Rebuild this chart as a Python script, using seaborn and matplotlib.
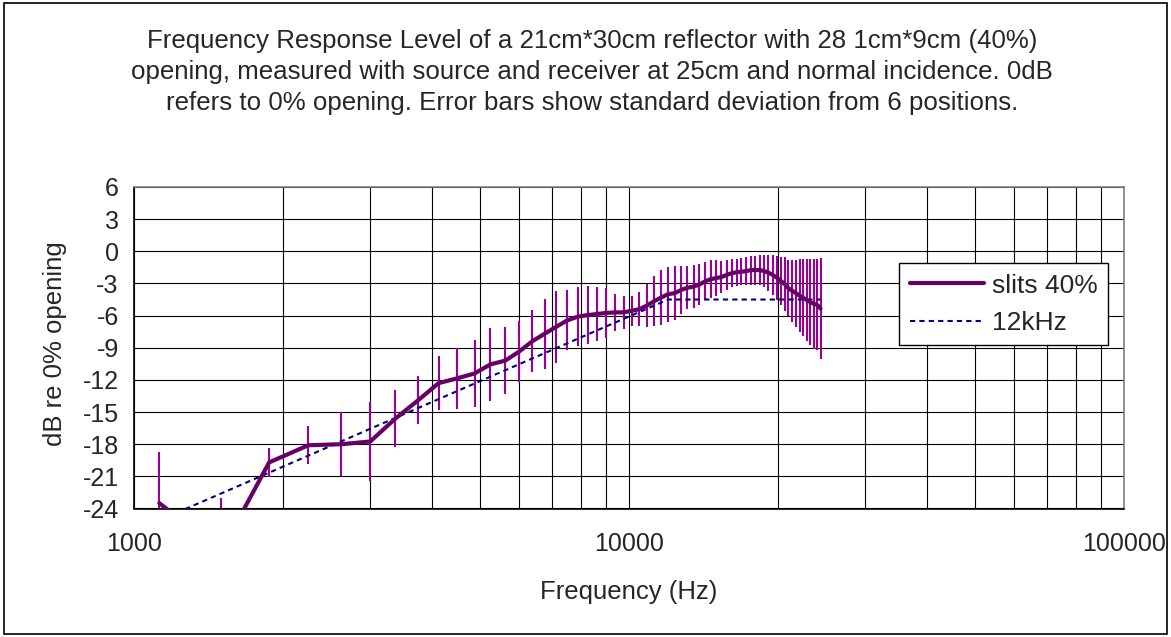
import numpy as np
import pandas as pd
import matplotlib
matplotlib.use("Agg")
import matplotlib.pyplot as plt
from matplotlib.patches import Rectangle
from matplotlib.ticker import FixedLocator, FuncFormatter, NullFormatter
import seaborn as sns

# measured frequencies (Hz), one point every 375 Hz
freq_hz = [1125, 1500, 1875, 2250, 2625, 3000, 3375, 3750, 4125, 4500,
           4875, 5250, 5625, 6000, 6375, 6750, 7125, 7500, 7875, 8250,
           8625, 9000, 9375, 9750, 10125, 10500, 10875, 11250, 11625, 12000,
           12375, 12750, 13125, 13500, 13875, 14250, 14625, 15000, 15375, 15750,
           16125, 16500, 16875, 17250, 17625, 18000, 18375, 18750, 19125, 19500,
           19875, 20250, 20625, 21000, 21375, 21750, 22125, 22500, 22875, 23250,
           23625, 24000, 24375]

# mean level, slits 40% (dB re 0% opening)
level_db = [-23.5, -28.0, -19.7, -18.1, -18.0, -17.75, -15.6, -13.9, -12.3, -11.85,
            -11.4, -10.55, -10.2, -9.35, -8.4, -7.7, -7.05, -6.45, -6.1, -5.95,
            -5.85, -5.75, -5.7, -5.7, -5.55, -5.4, -5.05, -4.65, -4.3, -4.0,
            -3.9, -3.6, -3.4, -3.3, -3.1, -2.8, -2.6, -2.5, -2.4, -2.2,
            -2.05, -1.95, -1.9, -1.85, -1.75, -1.75, -1.75, -1.85, -2.0, -2.2,
            -2.45, -2.75, -3.05, -3.45, -3.7, -3.9, -4.15, -4.35, -4.55, -4.75,
            -4.9, -5.0, -5.35]

# standard deviation over 6 positions (dB)
std_db = [4.8, 5.0, 1.37, 1.78, 3.0, 3.67, 2.64, 2.25, 2.55, 2.86,
          3.1, 3.4, 3.14, 2.8, 2.9, 3.28, 3.37, 2.8, 2.75, 2.71,
          2.55, 2.32, 1.73, 1.52, 1.42, 1.61, 2.0, 2.35, 2.55, 2.58,
          2.5, 2.22, 2.0, 2.0, 1.9, 1.77, 1.77, 1.66, 1.53, 1.38,
          1.3, 1.25, 1.25, 1.3, 1.35, 1.35, 1.4, 1.5, 1.66, 1.89,
          2.05, 2.25, 2.55, 2.63, 2.86, 3.12, 3.4, 3.59, 3.84, 4.02,
          4.18, 4.25, 4.72]

# 12 kHz reference curve
ref_freq_hz = [1125, 12000, 24375]
ref_level_db = [-25.1, -4.5, -4.5]

y_ticks = [-24, -21, -18, -15, -12, -9, -6, -3, 0, 3, 6]
x_major = [1000, 10000, 100000]
x_minor = [2000, 3000, 4000, 5000, 6000, 7000, 8000, 9000,
           20000, 30000, 40000, 50000, 60000, 70000, 80000, 90000]

title_lines = [
    "Frequency Response Level of a 21cm*30cm reflector with 28 1cm*9cm (40%)",
    "opening, measured with source and receiver at 25cm and normal incidence. 0dB",
    "refers to 0% opening. Error bars show standard deviation from 6 positions.",
]

df = pd.DataFrame({"freq": freq_hz, "level": level_db, "sd": std_db})
df_ref = pd.DataFrame({"freq": ref_freq_hz, "level": ref_level_db})

sns.set_style("white")
plt.rcParams["font.family"] = ["Liberation Sans", "DejaVu Sans"]
plt.rcParams["axes.unicode_minus"] = False

W, H = 1171, 637
fig = plt.figure(figsize=(W / 100, H / 100), dpi=100)
ax = fig.add_axes([134 / W, 1 - 508.5 / H, 990 / W, 321.5 / H])

# error bars
ax.vlines(df["freq"], df["level"] - df["sd"], df["level"] + df["sd"],
          color="#990099", lw=1.5, zorder=2)

sns.lineplot(data=df_ref, x="freq", y="level", ax=ax, color="#000080",
             lw=1.5, linestyle=(0, (2.5, 2)), label="12kHz", zorder=3)
sns.lineplot(data=df, x="freq", y="level", ax=ax, color="#660066",
             lw=3, label="slits 40%", zorder=4)

ax.set_xscale("log")
ax.set_xlim(1000, 100000)
ax.set_ylim(-24, 6)
ax.set_yticks(y_ticks)
ax.xaxis.set_major_locator(FixedLocator(x_major))
ax.xaxis.set_minor_locator(FixedLocator(x_minor))
ax.xaxis.set_major_formatter(FuncFormatter(lambda v, _: f"{v:.0f}"))
ax.xaxis.set_minor_formatter(NullFormatter())

ax.grid(True, which="major", color="black", lw=0.8)
ax.grid(True, which="minor", axis="x", color="black", lw=0.8)
ax.set_axisbelow(True)

ax.tick_params(axis="both", which="major", direction="out", length=5,
               width=1, color="black", labelsize=18)
ax.tick_params(axis="y", pad=6)
ax.tick_params(axis="x", pad=12)
ax.tick_params(axis="x", which="minor", length=0)

for side in ["left", "bottom"]:
    ax.spines[side].set_color("black")
    ax.spines[side].set_linewidth(1.2)
for side in ["top", "right"]:
    ax.spines[side].set_color("#808080")
    ax.spines[side].set_linewidth(1.2)

ax.set_xlabel("Frequency (Hz)", fontsize=18.5)
ax.set_ylabel("dB re 0% opening", fontsize=18.5)
ax.xaxis.label.set_va("center")
ax.yaxis.label.set_va("center")
ax.xaxis.set_label_coords(0.5, (508.5 - 592) / 321.5)
ax.yaxis.set_label_coords((55 - 134) / 990, (508.5 - 344) / 321.5)

handles, labels = ax.get_legend_handles_labels()
order = [labels.index("slits 40%"), labels.index("12kHz")]
leg = ax.legend([handles[i] for i in order], [labels[i] for i in order],
                loc="upper right", bbox_to_anchor=(0.984, 0.7636),
                fontsize=19, frameon=True, fancybox=False, framealpha=1,
                edgecolor="black", handlelength=2.8, handletextpad=0.3,
                labelspacing=0.5, borderpad=0.4, borderaxespad=0)
leg.get_frame().set_linewidth(1.0)

for i, line in enumerate(title_lines):
    fig.text(592 / W, 1 - (41 + 31 * i) / H, line, ha="center", va="center",
             fontsize=18.6)

fig.patches.append(Rectangle((4 / W, 3 / H), 1163 / W, 631 / H,
                             transform=fig.transFigure, fill=False,
                             ec="black", lw=1.2))

fig.savefig("out.png", dpi=100)
